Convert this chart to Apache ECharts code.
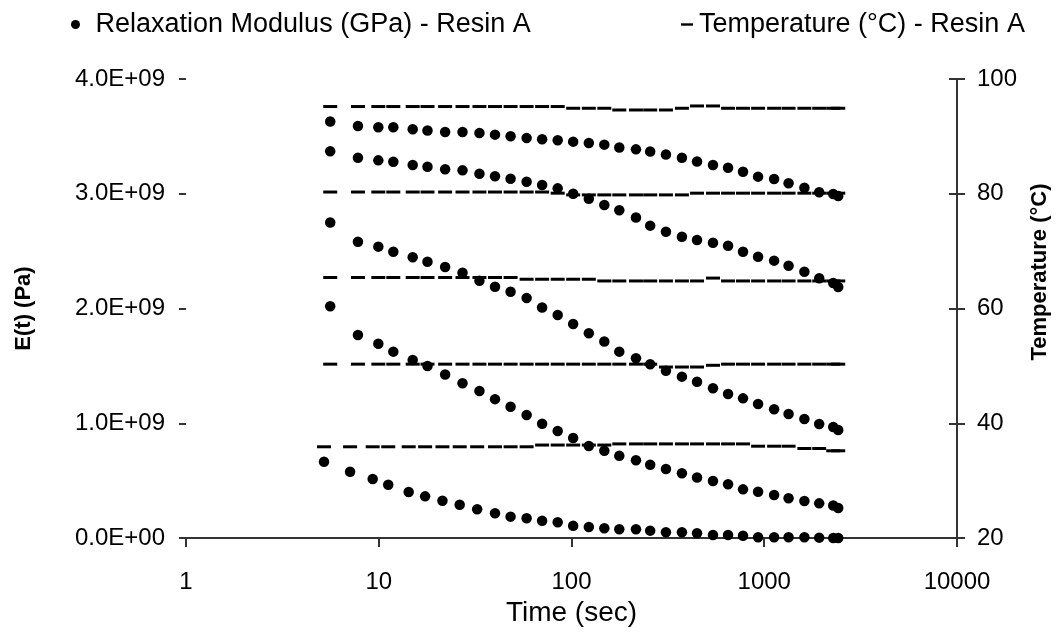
<!DOCTYPE html>
<html><head><meta charset="utf-8">
<script src="https://cdn.jsdelivr.net/npm/echarts@6/dist/echarts.min.js"></script>
<style>html,body{margin:0;padding:0;background:#fff}#c{width:1056px;height:635px}</style>
</head><body><div id="c"></div>
<script>
// Time (sec) at which each point was measured
const timeSec = [5.6, 7.8, 9.95, 11.9, 15.0, 17.9, 22.1, 27.2, 33.3, 40.1, 48.3, 58.5, 70.4, 84.8, 102, 123, 148, 177, 216, 256, 309, 374, 448, 542, 649, 776, 929, 1125, 1337, 1615, 1928, 2280, 2420];
const timeSec36 = [5.2, 7.1, 9.3, 11.2, 14.3, 17.4, 21.4, 26.3, 32.4, 40.1, 48.3, 58.5, 70.4, 84.8, 102, 123, 148, 177, 216, 256, 309, 374, 448, 542, 649, 776, 929, 1125, 1337, 1615, 1928, 2280, 2420];

// Relaxation modulus, in GPa (plotted in Pa)
const modulus95 = [3.63, 3.590, 3.579, 3.579, 3.562, 3.551, 3.538, 3.538, 3.529, 3.515, 3.501, 3.486, 3.475, 3.466, 3.454, 3.442, 3.428, 3.403, 3.387, 3.368, 3.342, 3.314, 3.281, 3.251, 3.227, 3.192, 3.149, 3.129, 3.091, 3.053, 3.013, 2.998, 2.98];
const modulus80 = [3.37, 3.314, 3.291, 3.279, 3.251, 3.236, 3.213, 3.204, 3.175, 3.152, 3.130, 3.105, 3.076, 3.047, 3.000, 2.957, 2.902, 2.856, 2.793, 2.722, 2.669, 2.626, 2.597, 2.573, 2.547, 2.495, 2.451, 2.417, 2.373, 2.321, 2.263, 2.222, 2.187];
const modulus65 = [2.75, 2.582, 2.539, 2.495, 2.447, 2.408, 2.362, 2.312, 2.241, 2.190, 2.146, 2.092, 2.009, 1.943, 1.865, 1.784, 1.712, 1.624, 1.566, 1.514, 1.458, 1.406, 1.362, 1.305, 1.255, 1.217, 1.168, 1.122, 1.081, 1.037, 0.993, 0.967, 0.941];
const modulus50 = [2.02, 1.769, 1.693, 1.624, 1.551, 1.499, 1.425, 1.348, 1.281, 1.210, 1.144, 1.072, 0.996, 0.932, 0.871, 0.802, 0.761, 0.716, 0.677, 0.639, 0.601, 0.564, 0.527, 0.497, 0.468, 0.424, 0.403, 0.375, 0.346, 0.322, 0.302, 0.283, 0.261];
const modulus36 = [0.665, 0.578, 0.514, 0.464, 0.401, 0.363, 0.324, 0.290, 0.250, 0.215, 0.186, 0.172, 0.150, 0.137, 0.107, 0.096, 0.085, 0.077, 0.077, 0.064, 0.050, 0.050, 0.041, 0.026, 0.026, 0.020, 0.006, 0.006, 0.006, 0.006, 0.003, 0.0, 0.0];

// Temperature (°C)
const temp95 = [95.2,95.2,95.2,95.2,95.2,95.2,95.2,95.2,95.2,95.2,95.2,95.2,95.2,95.2, 94.9,94.9,94.9, 94.6,94.6,94.6,94.6, 94.9, 95.3,95.3, 94.9,94.9,94.9,94.9,94.9,94.9,94.9,94.9,94.9];
const temp80 = [80.3,80.3,80.3,80.3,80.3,80.3,80.3,80.3,80.3,80.3,80.3,80.3,80.3, 80.1, 79.8,79.8,79.8,79.8,79.8,79.8,79.8,79.8, 80.1,80.1,80.1,80.1,80.1,80.1,80.1,80.1,80.1,80.1,80.1];
const temp65 = [65.4,65.4,65.4,65.4,65.4,65.4,65.4,65.4,65.4,65.4,65.4, 65.1,65.1,65.1,65.1,65.1, 64.8,64.8,64.8,64.8,64.8,64.8,64.8, 65.3, 64.8,64.8,64.8,64.8,64.8,64.8,64.8,64.8,64.8];
const temp50 = [50.3,50.3,50.3,50.3,50.3,50.3,50.3,50.3,50.3,50.3,50.3,50.3,50.3,50.3,50.3,50.3,50.3,50.3,50.3,50.3, 49.8,49.8,49.8, 50.1, 50.3,50.3,50.3,50.3,50.3,50.3,50.3,50.3,50.3];
const temp36 = [35.9,35.9,35.9,35.9,35.9,35.9,35.9,35.9,35.9,35.9,35.9,35.9, 36.2,36.2,36.2,36.2,36.2, 36.4,36.4,36.4,36.4,36.4,36.4,36.4,36.4,36.4, 36.0,36.0,36.0, 35.6,35.6, 35.2,35.2];

const xTicks = [1, 10, 100, 1000, 10000];
const modName = 'Relaxation Modulus (GPa) - Resin A';
const tempName = 'Temperature (\u00B0C) - Resin A';
const tempAxisTitle = 'Temperature (\u00B0C)';

const FONT = 'Liberation Sans, Arial, sans-serif';

function sci(v) {
  if (v === 0) return '0.0E+00';
  const e = Math.floor(Math.log10(Math.abs(v)) + 1e-9);
  const m = v / Math.pow(10, e);
  return m.toFixed(1) + 'E' + (e < 0 ? '-' : '+') + String(Math.abs(e)).padStart(2, '0');
}

const modSets = [[timeSec, modulus95], [timeSec, modulus80], [timeSec, modulus65], [timeSec, modulus50], [timeSec36, modulus36]];
const tempSets = [[timeSec, temp95], [timeSec, temp80], [timeSec, temp65], [timeSec, temp50], [timeSec36, temp36]];

const series = [];
modSets.forEach(([t, v]) => series.push({
  name: modName, type: 'scatter', xAxisIndex: 0, yAxisIndex: 0, clip: false,
  symbol: 'circle', symbolSize: 10.5, itemStyle: { color: '#000', opacity: 1 },
  data: t.map((x, i) => [x, v[i] * 1e9]), z: 3
}));
tempSets.forEach(([t, v]) => series.push({
  name: tempName, type: 'scatter', xAxisIndex: 0, yAxisIndex: 1, clip: false,
  symbol: 'rect', symbolSize: [14, 3], itemStyle: { color: '#000', opacity: 1 },
  data: t.map((x, i) => [x, v[i]]), z: 2
}));

const axisLineStyle = { color: '#333', width: 2 };
const chart = echarts.init(document.getElementById('c'), null, { renderer: 'canvas' });
chart.setOption({
  animation: false,
  backgroundColor: '#fff',
  textStyle: { fontFamily: FONT, color: '#000' },
  legend: [
    { data: [{ name: modName, icon: 'circle' }], left: 66, top: 6, itemWidth: 30, itemHeight: 9,
      selectedMode: false, itemStyle: { opacity: 1 },
      textStyle: { fontSize: 27, fontFamily: FONT, color: '#000' } },
    { data: [{ name: tempName, icon: 'path://M0,0 L10,0 L10,2 L0,2 Z' }], left: 676, top: 6, itemWidth: 14, itemHeight: 2.4,
      selectedMode: false, itemStyle: { opacity: 1 },
      textStyle: { fontSize: 27, fontFamily: FONT, color: '#000' } }
  ],
  grid: { left: 186, right: 99, top: 79, bottom: 97, containLabel: false },
  xAxis: [{
    type: 'log', logBase: 10, min: xTicks[0], max: xTicks[xTicks.length - 1],
    name: 'Time (sec)', nameLocation: 'middle', nameGap: 60,
    nameTextStyle: { fontSize: 28, fontFamily: FONT, color: '#000' },
    axisLine: { show: true, lineStyle: axisLineStyle },
    axisTick: { show: true, inside: false, length: 9, lineStyle: axisLineStyle },
    minorTick: { show: false }, splitLine: { show: false },
    axisLabel: { fontSize: 24, color: '#000', margin: 32, fontFamily: FONT,
      formatter: v => String(Math.round(v)) }
  }],
  yAxis: [{
    type: 'value', min: 0, max: 4e9, interval: 1e9, position: 'left',
    name: 'E(t) (Pa)', nameLocation: 'middle', nameGap: 151, nameRotate: 90,
    nameTextStyle: { fontSize: 22, fontWeight: 'bold', fontFamily: FONT, color: '#000' },
    axisLine: { show: false, lineStyle: axisLineStyle },
    axisTick: { show: true, inside: false, length: 7, lineStyle: axisLineStyle },
    splitLine: { show: false },
    axisLabel: { fontSize: 24, color: '#000', margin: 21, fontFamily: FONT, formatter: sci }
  }, {
    type: 'value', min: 20, max: 100, interval: 20, position: 'right',
    axisLine: { show: true, lineStyle: axisLineStyle },
    axisTick: { show: true, inside: false, length: 8, lineStyle: axisLineStyle },
    splitLine: { show: false },
    axisLabel: { fontSize: 24, color: '#000', margin: 20, fontFamily: FONT }
  }, {
    type: 'value', min: 20, max: 100, interval: 20, position: 'right',
    axisLine: { show: false },
    axisTick: { show: true, inside: true, length: 8, lineStyle: axisLineStyle },
    splitLine: { show: false }, axisLabel: { show: false }
  }],
  graphic: [{
    type: 'text', x: 1040, y: 272, rotation: Math.PI / 2,
    style: { text: tempAxisTitle, font: 'bold 22px ' + FONT, fill: '#000', align: 'center', verticalAlign: 'middle' }
  }],
  series: series
});
</script>
</body></html>
